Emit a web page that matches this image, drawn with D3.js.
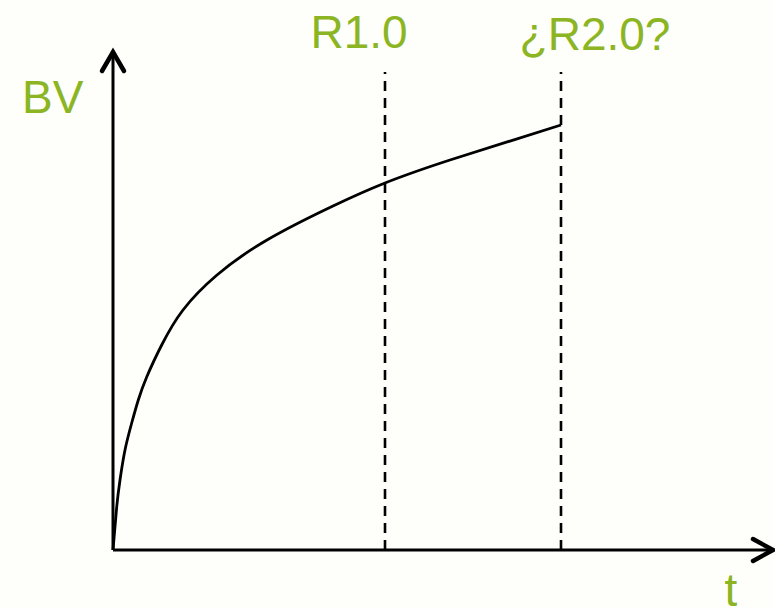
<!DOCTYPE html>
<html><head><meta charset="utf-8">
<script src="https://cdn.jsdelivr.net/npm/d3@7"></script>
<style>
html,body{margin:0;padding:0;background:#fefefb;}
svg{display:block;}
text{font-family:"Liberation Sans",Arial,sans-serif;}
</style></head>
<body>
<script>
// Data (arbitrary units: t along x, BV along y)
const curveT  = [0, 3.7, 7, 12, 18.7, 25.3, 33.7, 48.7, 70, 104, 154, 220, 272, 337, 448];
const curveBV = [0, 43, 70, 100, 127, 150, 173, 205, 240, 275, 310, 344, 367, 390, 425];
const releaseNames = ["R1.0", "¿R2.0?"];
const releaseT = [272, 448];
const axisLabels = ["BV", "t"];
const tMax = 660, bvMax = 498;

const W = 775, H = 608;
const green = "#8cb523";
const x0 = 113, y0 = 550;

const x = d3.scaleLinear().domain([0, tMax]).range([x0, x0 + tMax]);
const y = d3.scaleLinear().domain([0, bvMax]).range([y0, y0 - bvMax]);

const svg = d3.select("body").append("svg").attr("width", W).attr("height", H);
svg.append("rect").attr("width", W).attr("height", H).attr("fill", "#fefefb");

// Dashed release lines
releaseT.forEach((t, i) => {
  svg.append("line")
    .attr("x1", x(t)).attr("x2", x(t))
    .attr("y1", y(0)).attr("y2", 72)
    .attr("stroke", "#000").attr("stroke-width", 2.6)
    .attr("stroke-dasharray", "10,7");
});

// Axes
svg.append("line").attr("x1", x(0)).attr("y1", y(0)).attr("x2", x(0)).attr("y2", y(bvMax))
  .attr("stroke", "#000").attr("stroke-width", 3);
svg.append("line").attr("x1", x(0)).attr("y1", y(0)).attr("x2", x(tMax)).attr("y2", y(0))
  .attr("stroke", "#000").attr("stroke-width", 3);

// Arrowheads
svg.append("path")
  .attr("d", `M${x(0)-11},${y(bvMax)+19} L${x(0)},${y(bvMax)} L${x(0)+11},${y(bvMax)+19}`)
  .attr("fill", "none").attr("stroke", "#000").attr("stroke-width", 4.5)
  .attr("stroke-linecap", "round").attr("stroke-linejoin", "miter");
svg.append("path")
  .attr("d", `M${x(tMax)-20},${y(0)-11} L${x(tMax)},${y(0)} L${x(tMax)-20},${y(0)+11}`)
  .attr("fill", "none").attr("stroke", "#000").attr("stroke-width", 4.5)
  .attr("stroke-linecap", "round").attr("stroke-linejoin", "miter");

// Curve
const pts = curveT.map((t, i) => [t, curveBV[i]]);
svg.append("path")
  .datum(pts)
  .attr("d", d3.line().x(d => x(d[0])).y(d => y(d[1])).curve(d3.curveNatural))
  .attr("fill", "none").attr("stroke", "#000").attr("stroke-width", 2.8);

// Labels
const fs = 46;
svg.append("text").attr("x", 22).attr("y", 113).attr("font-size", fs).attr("fill", green).text(axisLabels[0]);
svg.append("text").attr("x", 731).attr("y", 606).attr("text-anchor", "middle").attr("font-size", fs).attr("fill", green).text(axisLabels[1]);
const relY = [48, 50];
const relX = [359, 595];
releaseNames.forEach((n, i) => {
  svg.append("text").attr("x", relX[i]).attr("y", relY[i]).attr("text-anchor", "middle")
    .attr("font-size", fs).attr("fill", green).text(n);
});
</script>
</body></html>
